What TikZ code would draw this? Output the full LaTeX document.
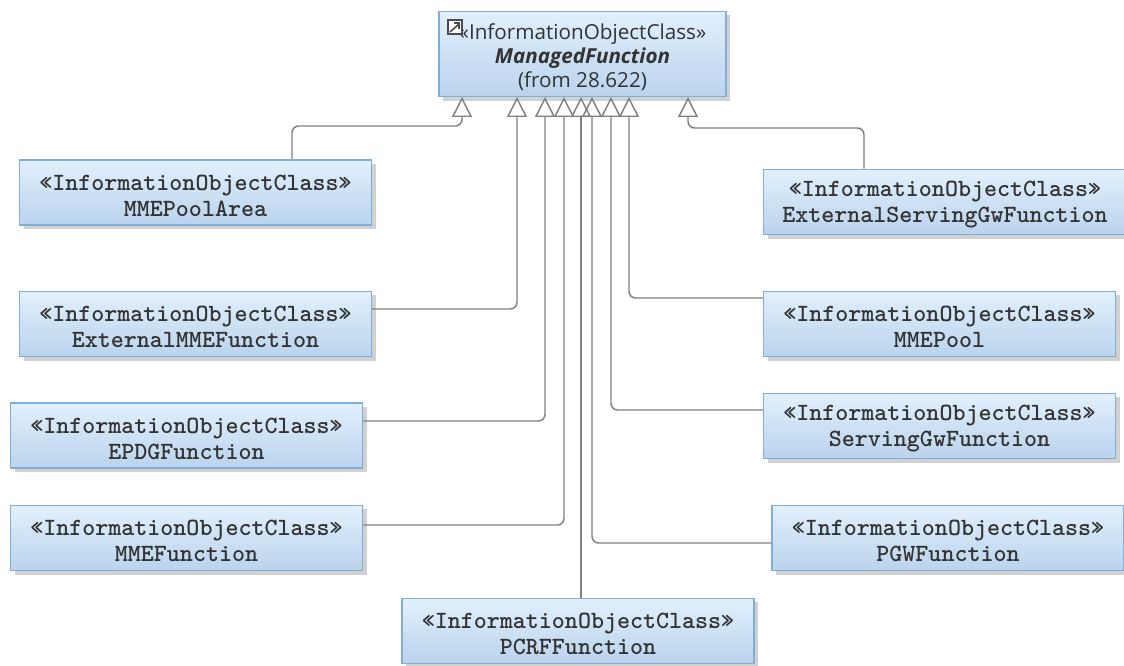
\documentclass[tikz,border=0pt]{standalone}
\usepackage{fontspec}
\setmainfont{Open Sans}
\usetikzlibrary{arrows.meta}
\usetikzlibrary{shadows}
\newcommand\stereo{\rule{0pt}{16pt}«InformationObjectClass»}
\tikzset{
    ioc/.style={
        draw=boxedge, line width=1.1pt, top color=boxtop, bottom color=boxbottom,
        minimum width=264pt, minimum height=49pt, inner sep=0pt,
        align=center, font=\ttfamily\bfseries\fontsize{18.6}{19.5}\selectfont,
        text=black!80, drop shadow={shadow xshift=3pt, shadow yshift=-3pt, fill=black, opacity=.18},
    },
    link/.style={
        draw=linegray, line width=1.1pt, rounded corners=5pt,
        -{Triangle[open, length=15pt, width=15pt]},
    },
}
\definecolor{boxedge}{HTML}{7FAEDC}
\definecolor{boxtop}{HTML}{E2F0FD}
\definecolor{boxbottom}{HTML}{BAD3EC}
\definecolor{linegray}{HTML}{808080}
\begin{document}
\begin{tikzpicture}[x=.75pt,y=-.75pt]
        \useasboundingbox (0,0) rectangle (1124,666);
        % Oberklasse
        \node[ioc, minimum width=215pt, minimum height=64pt, font=\fontsize{15.5}{18}\selectfont] (mf) at (582.5,54)
            {\stereo\\ \textbf{\textit{ManagedFunction}}\\ (from 28.622)};
        \draw[black!70, line width=.8pt, fill=white] (448,20) rectangle (462,34);
        \draw[black!70, line width=1.2pt] (450,32) -- (459,24) (454,23) -- (459,23) -- (459,29);
        % Unterklassen
        \node[ioc] (poolarea) at (195.5,192.5) {\stereo\\ MMEPoolArea};
        \node[ioc] (extmme) at (195.5,324) {\stereo\\ ExternalMMEFunction};
        \node[ioc] (epdg) at (186.5,435.5) {\stereo\\ EPDGFunction};
        \node[ioc] (mme) at (186.5,538) {\stereo\\ MMEFunction};
        \node[ioc] (pcrf) at (578,631) {\stereo\\ PCRFFunction};
        \node[ioc] (pgw) at (948,538) {\stereo\\ PGWFunction};
        \node[ioc] (sgw) at (939.5,426) {\stereo\\ ServingGwFunction};
        \node[ioc] (pool) at (939.5,324) {\stereo\\ MMEPool};
        \node[ioc, minimum width=272pt] (extsgw) at (945,202) {\stereo\\ ExternalServingGwFunction};
        % Spitzen an der Oberklasse
        \coordinate (t1) at (462,97);
        \coordinate (t2) at (517,97);
        \coordinate (t3) at (545,97);
        \coordinate (t4) at (564,97);
        \coordinate (t5) at (581,97);
        \coordinate (t6) at (592,97);
        \coordinate (t7) at (611,97);
        \coordinate (t8) at (629,97);
        \coordinate (t9) at (688,97);
        % Knicke
        \coordinate (k1) at (292,126);
        \coordinate (k2) at (517,309);
        \coordinate (k3) at (545,421);
        \coordinate (k4) at (564,525);
        \coordinate (k6) at (592,543);
        \coordinate (k7) at (611,410);
        \coordinate (k8) at (629,298);
        \coordinate (k9) at (864,128);
        % Generalisierungen
        \draw[link] (k1 |- poolarea.north) -- (k1) -| (t1);
        \draw[link] (k2 -| extmme.east) -- (k2) -- (t2);
        \draw[link] (k3 -| epdg.east) -- (k3) -- (t3);
        \draw[link] (k4 -| mme.east) -- (k4) -- (t4);
        \draw[link] (t5 |- pcrf.north) -- (t5);
        \draw[link] (k6 -| pgw.west) -- (k6) -- (t6);
        \draw[link] (k7 -| sgw.west) -- (k7) -- (t7);
        \draw[link] (k8 -| pool.west) -- (k8) -- (t8);
        \draw[link] (k9 |- extsgw.north) -- (k9) -| (t9);
    \end{tikzpicture}
\end{document}
